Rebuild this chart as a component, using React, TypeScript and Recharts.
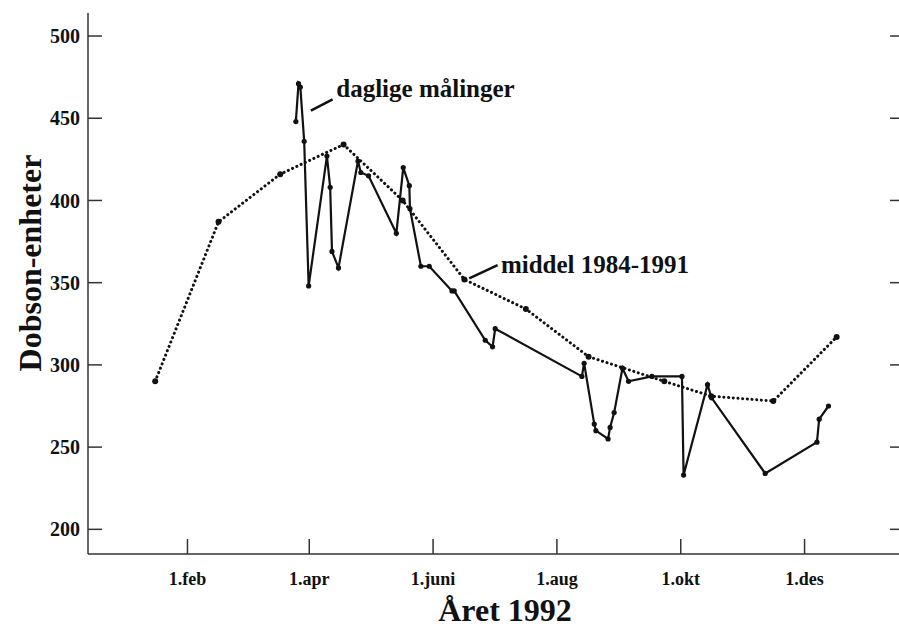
import React from 'react'
import { LineChart, Line, XAxis, YAxis, ReferenceLine, ReferenceDot } from 'recharts'

// day-of-year 1992 for the month ticks
const monthTicks = [32, 92, 153, 214, 275, 336]
const monthLabels = ['1.feb', '1.apr', '1.juni', '1.aug', '1.okt', '1.des']
const valueTicks = [200, 250, 300, 350, 400, 450, 500]

// daily measurements (day of year, Dobson units)
const dailyDays = [
  85.4, 86.7, 87.6, 89.5, 91.7, 100.7, 102.3, 103.2, 106.4, 116, 117.4, 121.2, 134.9, 138.3,
  141.3, 141.6, 147, 151.1, 162.3, 163.4, 178.7, 182.3, 183.6, 226.3, 227.4, 232.4, 233.2,
  239.2, 240.2, 242.2, 246.3, 249.3, 260.8, 275.6, 276.4, 288.2, 290.2, 316.6, 342.1, 343.2, 347.8,
]
const dailyValues = [
  448, 471, 469, 436, 348, 427, 408, 369, 359, 424, 417, 415, 380, 420,
  409, 395, 360, 360, 345, 345, 315, 311, 322, 293, 301, 264, 260,
  255, 262, 271, 298, 290, 293, 293, 233, 288, 280, 234, 253, 267, 275,
]

// monthly mean 1984-1991
const meanDays = [16.1, 47.3, 77.7, 108.9, 138, 168.4, 198.7, 229.6, 266.9, 290, 320.6, 351.8]
const meanValues = [290, 387, 416, 434, 400, 352, 334, 305, 290, 281, 278, 317]

const daily = dailyDays.map((d, i) => ({ d, v: dailyValues[i] }))
const mean = meanDays.map((d, i) => ({ d, v: meanValues[i] }))

const serif = '"Liberation Serif", "DejaVu Serif", serif'
const ink = '#111'
const axisStroke = { stroke: '#333', strokeWidth: 1.5 }

const AnnotationText = (text: string) => (props: any) => {
  const vb = props.viewBox || {}
  return (
    <text x={vb.x} y={vb.y} fill={ink} fontFamily={serif} fontWeight="bold" fontSize={25}>
      {text}
    </text>
  )
}

const App: React.FC = () => {
  return (
    <div style={{ position: 'fixed', left: 0, top: 0, width: 899, height: 629, overflow: 'hidden', background: '#fff' }}>
      <LineChart width={905} height={629} margin={{ top: 13, right: 2, left: 0, bottom: 0 }}>
        <XAxis
          type="number"
          dataKey="d"
          domain={[-17, 384]}
          ticks={monthTicks}
          tickFormatter={(v: number) => monthLabels[monthTicks.indexOf(v)] ?? ''}
          allowDataOverflow
          height={75}
          tickSize={-15}
          tickMargin={33}
          axisLine={axisStroke}
          tickLine={axisStroke}
          tick={{ fill: ink, fontSize: 18, fontWeight: 'bold', fontFamily: serif }}
          label={() => (
            <text x={505} y={621} textAnchor="middle" fill={ink} fontFamily={serif} fontWeight="bold" fontSize={32}>
              Året 1992
            </text>
          )}
        />
        <XAxis
          xAxisId="top"
          orientation="top"
          type="number"
          dataKey="d"
          domain={[-17, 384]}
          ticks={monthTicks}
          tickFormatter={() => ''}
          allowDataOverflow
          height={0}
          tickSize={-14}
          axisLine={axisStroke}
          tickLine={axisStroke}
        />
        <YAxis
          type="number"
          domain={[185, 514]}
          ticks={valueTicks}
          allowDataOverflow
          width={88}
          tickSize={-14}
          tickMargin={22}
          axisLine={axisStroke}
          tickLine={axisStroke}
          tick={{ fill: ink, fontSize: 20, fontWeight: 'bold', fontFamily: serif }}
          label={() => (
            <text
              x={41}
              y={263}
              transform="rotate(-90 41 263)"
              textAnchor="middle"
              fill={ink}
              fontFamily={serif}
              fontWeight="bold"
              fontSize={32}
            >
              Dobson-enheter
            </text>
          )}
        />
        <YAxis
          yAxisId="r"
          orientation="right"
          type="number"
          domain={[185, 514]}
          ticks={valueTicks}
          allowDataOverflow
          width={1}
          tickSize={-12}
          tickFormatter={() => ''}
          axisLine={axisStroke}
          tickLine={axisStroke}
        />

        <Line
          data={mean}
          dataKey="v"
          type="linear"
          stroke={ink}
          strokeWidth={3}
          strokeDasharray="0.1 4.6"
          strokeLinecap="round"
          dot={{ r: 3, fill: ink, stroke: 'none' }}
          activeDot={false}
          isAnimationActive={false}
        />
        <Line
          data={daily}
          dataKey="v"
          type="linear"
          stroke={ink}
          strokeWidth={2.2}
          dot={{ r: 2.6, fill: ink, stroke: 'none' }}
          activeDot={false}
          isAnimationActive={false}
        />

        {/* leader lines and labels */}
        <ReferenceLine
          segment={[{ x: 92.8, y: 454.6 }, { x: 103.5, y: 461.5 }]}
          stroke={ink}
          strokeWidth={2.5}
        />
        <ReferenceDot x={105.3} y={462.9} r={0} stroke="none" label={AnnotationText('daglige målinger')} />
        <ReferenceLine
          segment={[{ x: 170.8, y: 352.6 }, { x: 184.8, y: 360.7 }]}
          stroke={ink}
          strokeWidth={2.5}
        />
        <ReferenceDot x={186.4} y={355.7} r={0} stroke="none" label={AnnotationText('middel 1984-1991')} />
      </LineChart>
    </div>
  )
}

export default App
